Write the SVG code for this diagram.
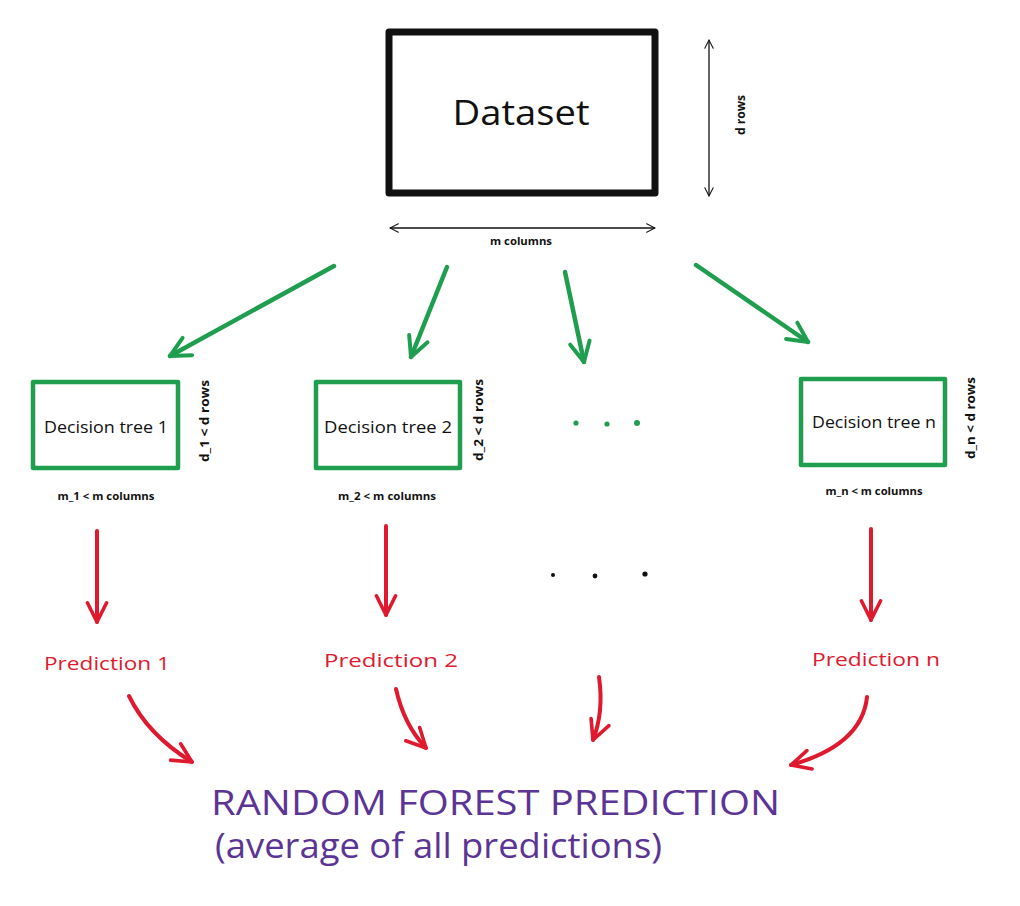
<svg xmlns="http://www.w3.org/2000/svg" width="1020" height="906" viewBox="0 0 1020 906">
<style>
text{font-family:"Open Sans","Liberation Sans",sans-serif}
.box{fill:none;stroke-linejoin:round;stroke-linecap:round}
.ds{stroke:#111;stroke-width:7}
.tree{stroke:#1e9e4e;stroke-width:4.5}
.lbl{font-size:16px;fill:#111;text-anchor:middle}
.small{font-size:11px;font-weight:bold;fill:#111;text-anchor:middle}
.vert{font-size:12.5px;font-weight:bold;fill:#111;text-anchor:middle}
.dim{stroke:#111;stroke-width:1.3;fill:none}
.g{stroke:#1e9e4e;stroke-width:4.5;fill:none;stroke-linecap:round}
.r{stroke:#e01a2e;stroke-width:4;fill:none;stroke-linecap:round}
.pred{font-size:18px;fill:#e01a2e;text-anchor:middle}
.rf{fill:#5b3495;font-size:34px}
</style>
<defs>
<marker id="mg" viewBox="0 0 10 10" refX="9" refY="5" markerWidth="5.5" markerHeight="5.5" orient="auto" markerUnits="strokeWidth">
<path d="M1,1 L9,5 L1,9" fill="none" stroke="#1e9e4e" stroke-width="1.6" stroke-linecap="round" stroke-linejoin="round"/>
</marker>
<marker id="mr" viewBox="0 0 10 10" refX="9" refY="5" markerWidth="6" markerHeight="6" orient="auto" markerUnits="strokeWidth">
<path d="M1,1 L9,5 L1,9" fill="none" stroke="#e01a2e" stroke-width="1.5" stroke-linecap="round" stroke-linejoin="round"/>
</marker>
<marker id="mk" viewBox="0 0 10 10" refX="9" refY="5" markerWidth="8" markerHeight="8" orient="auto-start-reverse" markerUnits="strokeWidth">
<path d="M1,1 L9,5 L1,9" fill="none" stroke="#111" stroke-width="1" stroke-linecap="round"/>
</marker>
</defs>
<rect width="1020" height="906" fill="#fff"/>

<g id="dataset">
<rect class="box ds" x="389" y="32" width="266" height="161"/>
<text x="521" y="125" font-size="34" fill="#111" text-anchor="middle" textLength="137" lengthAdjust="spacingAndGlyphs">Dataset</text>
<line class="dim" x1="709" y1="40" x2="709" y2="196" marker-start="url(#mk)" marker-end="url(#mk)"/>
<text class="vert" transform="translate(745,115) rotate(-90)" textLength="40" lengthAdjust="spacingAndGlyphs">d rows</text>
<line class="dim" x1="390" y1="228" x2="655" y2="228" marker-start="url(#mk)" marker-end="url(#mk)"/>
<text class="small" x="521" y="245" textLength="62" lengthAdjust="spacingAndGlyphs">m columns</text>
</g>

<g id="tree1">
<rect class="box tree" x="33" y="382" width="145" height="86"/>
<text class="lbl" x="106" y="433" textLength="124" lengthAdjust="spacingAndGlyphs">Decision tree 1</text>
<text class="vert" transform="translate(209,421) rotate(-90)" textLength="82" lengthAdjust="spacingAndGlyphs">d_1 &lt; d rows</text>
<text class="small" x="106" y="500" textLength="97" lengthAdjust="spacingAndGlyphs">m_1 &lt; m columns</text>
</g>

<g id="tree2">
<rect class="box tree" x="316" y="382" width="144" height="86"/>
<text class="lbl" x="388" y="433" textLength="128" lengthAdjust="spacingAndGlyphs">Decision tree 2</text>
<text class="vert" transform="translate(483,420) rotate(-90)" textLength="82" lengthAdjust="spacingAndGlyphs">d_2 &lt; d rows</text>
<text class="small" x="387" y="500" textLength="98" lengthAdjust="spacingAndGlyphs">m_2 &lt; m columns</text>
</g>

<g id="tree-dots">
<circle cx="576" cy="423" r="2.6" fill="#1e9e4e"/>
<circle cx="607" cy="424" r="2.6" fill="#1e9e4e"/>
<circle cx="637" cy="423" r="3" fill="#1e9e4e"/>
</g>

<g id="treeN">
<rect class="box tree" x="801" y="379" width="144" height="86"/>
<text class="lbl" x="874" y="428" textLength="124" lengthAdjust="spacingAndGlyphs">Decision tree n</text>
<text class="vert" transform="translate(975,418) rotate(-90)" textLength="82" lengthAdjust="spacingAndGlyphs">d_n &lt; d rows</text>
<text class="small" x="874" y="495" textLength="97" lengthAdjust="spacingAndGlyphs">m_n &lt; m columns</text>
</g>

<g id="pred-dots">
<circle cx="553" cy="575" r="2" fill="#111"/>
<circle cx="595" cy="576" r="2.4" fill="#111"/>
<circle cx="645" cy="574" r="2.6" fill="#111"/>
</g>

<g id="pred1"><text class="pred" x="107" y="670" textLength="126" lengthAdjust="spacingAndGlyphs">Prediction 1</text></g>
<g id="pred2"><text class="pred" x="391" y="667" textLength="134" lengthAdjust="spacingAndGlyphs">Prediction 2</text></g>
<g id="predN"><text class="pred" x="876" y="666" textLength="128" lengthAdjust="spacingAndGlyphs">Prediction n</text></g>

<g id="rf">
<text class="rf" x="211" y="815" textLength="569" lengthAdjust="spacingAndGlyphs">RANDOM FOREST PREDICTION</text>
<text class="rf" x="215" y="858" textLength="447" lengthAdjust="spacingAndGlyphs">(average of all predictions)</text>
</g>

<g id="connectors">
<line class="g" x1="334" y1="266" x2="170" y2="356" marker-end="url(#mg)"/>
<line class="g" x1="447" y1="267" x2="411" y2="357" marker-end="url(#mg)"/>
<line class="g" x1="565" y1="272" x2="584" y2="362" marker-end="url(#mg)"/>
<line class="g" x1="696" y1="265" x2="808" y2="342" marker-end="url(#mg)"/>

<line class="r" x1="97" y1="531" x2="97" y2="622" marker-end="url(#mr)"/>
<line class="r" x1="386" y1="526" x2="386" y2="615" marker-end="url(#mr)"/>
<line class="r" x1="871" y1="529" x2="871" y2="620" marker-end="url(#mr)"/>

<path class="r" d="M129,696 Q148,735 192,762" marker-end="url(#mr)"/>
<path class="r" d="M396,689 Q404,725 426,748" marker-end="url(#mr)"/>
<path class="r" d="M599,677 Q604,712 593,740" marker-end="url(#mr)"/>
<path class="r" d="M867,697 Q862,745 791,765" marker-end="url(#mr)"/>
</g>
</svg>
